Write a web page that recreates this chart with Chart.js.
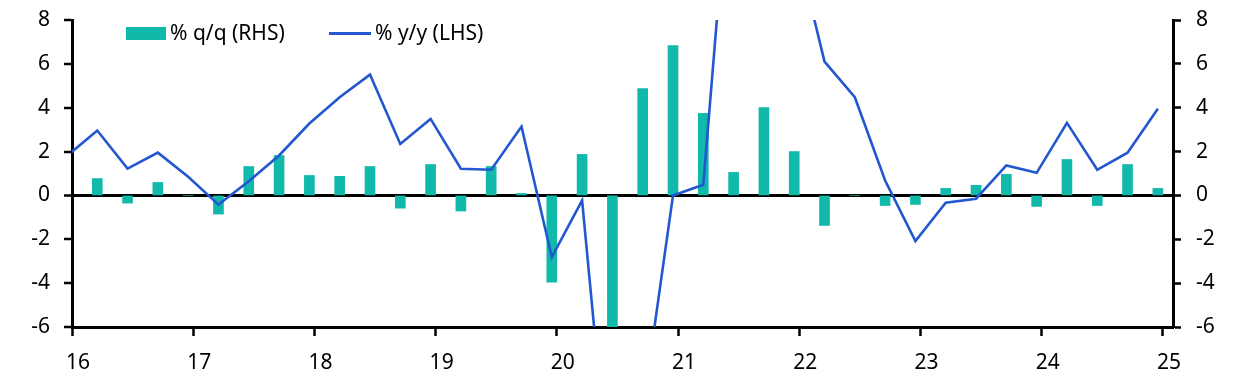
<!DOCTYPE html>
<html lang="en">
<head>
  <meta charset="UTF-8">
  <title>% q/q and % y/y</title>
  <script src="https://cdn.jsdelivr.net/npm/chart.js@4.4.1/dist/chart.umd.min.js"></script>
  <style>
    body { margin: 0; background: #fff; }
  </style>
</head>
<body>
  <div style="width: 1240px; height: 384px;">
    <canvas id="myChart" width="1240" height="384"></canvas>
  </div>
  <script>
    // Quarters (2015Q4 is only there so the line runs in from the left edge)
    const quarters = [
      '2015Q4',
      '2016Q1', '2016Q2', '2016Q3', '2016Q4',
      '2017Q1', '2017Q2', '2017Q3', '2017Q4',
      '2018Q1', '2018Q2', '2018Q3', '2018Q4',
      '2019Q1', '2019Q2', '2019Q3', '2019Q4',
      '2020Q1', '2020Q2', '2020Q3', '2020Q4',
      '2021Q1', '2021Q2', '2021Q3', '2021Q4',
      '2022Q1', '2022Q2', '2022Q3', '2022Q4',
      '2023Q1', '2023Q2', '2023Q3', '2023Q4',
      '2024Q1', '2024Q2', '2024Q3', '2024Q4'
    ];

    // % q/q (RHS) - bars
    const qoq = [
      null,
      0.77, -0.35, 0.59, 0.0,
      -0.85, 1.32, 1.82, 0.91,
      0.87, 1.32, -0.58, 1.41,
      -0.71, 1.32, 0.09, -3.95,
      1.87, -10.0, 4.87, 6.83,
      3.74, 1.05, 4.01, 2.0,
      -1.37, 0.0, -0.46, -0.41,
      0.32, 0.46, 0.96, -0.5,
      1.64, -0.46, 1.41, 0.32
    ];

    // % y/y (LHS) - line
    const yoy = [
      1.8,
      2.96, 1.22, 1.95, 0.85,
      -0.42, 0.65, 1.82, 3.28,
      4.48, 5.51, 2.35, 3.49,
      1.22, 1.17, 3.14, -2.81,
      -0.23, -14.8, -9.8, 0.0,
      0.49, 17.3, 14.0, 11.8,
      6.1, 4.48, 0.68, -2.08,
      -0.33, -0.15, 1.37, 1.03,
      3.31, 1.17, 1.95, 3.95
    ];

    // x axis: years 2016..2025, y axes: -6..8
    const yearTicks = [2016, 2017, 2018, 2019, 2020, 2021, 2022, 2023, 2024, 2025];
    const valueTicks = [-6, -4, -2, 0, 2, 4, 6, 8];

    const barColor = '#10b9a9';
    const lineColor = '#2357cf';
    const font = { family: '"Noto Sans", sans-serif', size: 21 };

    // each quarter is plotted in the middle of its last month
    function quarterToX(q) {
      const year = parseInt(q.slice(0, 4));
      const n = parseInt(q.slice(5));
      return year + (3 * n - 0.5) / 12;
    }
    const xs = quarters.map(quarterToX);

    // fixed axis sizes, no extra padding from the tick labels
    function fitY(width) {
      return s => {
        s.width = width;
        s.paddingTop = 0;
        s.paddingBottom = 0;
      };
    }

    // simple legend drawn inside the plot area
    const insideLegend = {
      id: 'insideLegend',
      afterDraw(chart) {
        const ctx = chart.ctx;
        ctx.save();
        ctx.font = `${font.size}px ${font.family}`;
        ctx.textBaseline = 'middle';
        // bars
        ctx.fillStyle = barColor;
        ctx.fillRect(126, 27, 40, 13);
        ctx.fillStyle = '#000';
        ctx.fillText(chart.data.datasets[0].label, 170, 34);
        // line
        ctx.strokeStyle = lineColor;
        ctx.lineWidth = 3;
        ctx.beginPath();
        ctx.moveTo(329, 33.5);
        ctx.lineTo(371, 33.5);
        ctx.stroke();
        ctx.fillText(chart.data.datasets[1].label, 375, 34);
        ctx.restore();
      }
    };

    const ctx = document.getElementById('myChart').getContext('2d');
    new Chart(ctx, {
      type: 'bar',
      data: {
        datasets: [{
          type: 'bar',
          label: '% q/q (RHS)',
          data: xs.map((x, i) => ({ x: x, y: qoq[i] })),
          backgroundColor: barColor,
          barThickness: 10,
          yAxisID: 'y1',
          order: 1
        }, {
          type: 'line',
          label: '% y/y (LHS)',
          data: xs.map((x, i) => ({ x: x, y: yoy[i] })),
          borderColor: lineColor,
          borderWidth: 2.6,
          pointRadius: 0,
          tension: 0,
          yAxisID: 'y',
          order: 0
        }]
      },
      options: {
        responsive: false,
        animation: false,
        devicePixelRatio: 1,
        layout: { padding: { top: 20 } },
        plugins: {
          legend: { display: false },
          tooltip: { enabled: false }
        },
        scales: {
          x: {
            type: 'linear',
            min: 2016,
            max: 2025.0833,
            offset: false,
            afterBuildTicks: s => { s.ticks = yearTicks.map(v => ({ value: v })); },
            afterFit: s => { s.height = 57; s.paddingLeft = 0; s.paddingRight = 0; },
            border: { color: '#000', width: 3 },
            grid: { offset: false, drawOnChartArea: false, tickLength: 9, tickColor: '#000', tickWidth: 2.5 },
            ticks: {
              color: '#000',
              font: font,
              padding: 14,
              labelOffset: 6,
              maxRotation: 0,
              autoSkip: false,
              callback: v => String(v).slice(2)
            }
          },
          y: {
            position: 'left',
            min: -6,
            max: 8,
            afterBuildTicks: s => { s.ticks = valueTicks.map(v => ({ value: v })); },
            afterFit: fitY(72),
            border: { color: '#000', width: 3 },
            grid: {
              color: c => (c.tick && c.tick.value === 0 ? '#000' : 'transparent'),
              lineWidth: c => (c.tick && c.tick.value === 0 ? 3 : 0),
              tickLength: 8,
              tickColor: '#000',
              tickWidth: 2.5
            },
            ticks: { color: '#000', font: font, padding: 14 }
          },
          y1: {
            position: 'right',
            min: -6,
            max: 8,
            afterBuildTicks: s => { s.ticks = valueTicks.map(v => ({ value: v })); },
            afterFit: fitY(67),
            border: { color: '#000', width: 3 },
            grid: { drawOnChartArea: false, tickLength: 8, tickColor: '#000', tickWidth: 2.5 },
            ticks: { color: '#000', font: font, padding: 15 }
          }
        }
      },
      plugins: [insideLegend]
    });
  </script>
</body>
</html>
